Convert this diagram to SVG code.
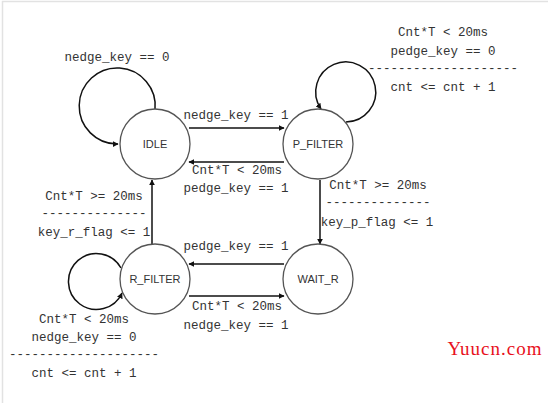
<svg xmlns="http://www.w3.org/2000/svg" width="556" height="403" viewBox="0 0 556 403">
<style>
.node circle{fill:#fff;stroke:#555;stroke-width:1.3}
.node text{font-family:"Liberation Sans",Arial,sans-serif;font-size:11px;fill:#333;text-anchor:middle}
.edge{fill:none;stroke:#111;stroke-width:1.5}
.lbl{font-family:"Liberation Mono","DejaVu Sans Mono",monospace;font-size:12.5px;fill:#333;text-anchor:middle}
</style>
<defs>
<marker id="ah" viewBox="0 0 10 10" refX="9" refY="5" markerWidth="6" markerHeight="6" markerUnits="userSpaceOnUse" orient="auto">
<path d="M0,0 L10,5 L0,10 z" fill="#111"/>
</marker>
</defs>
<rect width="556" height="403" fill="#fff"/>
<path d="M2.5,403 V1.5 H548" fill="none" stroke="#e2e2e2" stroke-width="1.5"/>
<g id="connectors">
<path class="edge" d="M155,110 A38,38 0 1 0 118,144" marker-end="url(#ah)"/>
<path class="edge" d="M346,122 A30,30 0 1 0 321,109" marker-end="url(#ah)"/>
<path class="edge" d="M121,268 A28,28 0 1 0 122,293" marker-end="url(#ah)"/>
<path class="edge" d="M189,128 H284" marker-end="url(#ah)"/>
<path class="edge" d="M284,162 H189" marker-end="url(#ah)"/>
<path class="edge" d="M320,180 V244" marker-end="url(#ah)"/>
<path class="edge" d="M284,264 H189" marker-end="url(#ah)"/>
<path class="edge" d="M189,296 H284" marker-end="url(#ah)"/>
<path class="edge" d="M152,244 V180" marker-end="url(#ah)"/>
</g>
<g id="labels">
<text class="lbl" x="117" y="61">nedge_key == 0</text>
<text class="lbl" x="443" y="36">Cnt*T &lt; 20ms</text>
<text class="lbl" x="443" y="55">pedge_key == 0</text>
<text class="lbl" x="443" y="72">--------------------</text>
<text class="lbl" x="443" y="91">cnt &lt;= cnt + 1</text>
<text class="lbl" x="236" y="119">nedge_key == 1</text>
<text class="lbl" x="237" y="174">Cnt*T &lt; 20ms</text>
<text class="lbl" x="236" y="192">pedge_key == 1</text>
<text class="lbl" x="378" y="189">Cnt*T &gt;= 20ms</text>
<text class="lbl" x="378" y="206">--------------</text>
<text class="lbl" x="377" y="226">key_p_flag &lt;= 1</text>
<text class="lbl" x="94" y="200">Cnt*T &gt;= 20ms</text>
<text class="lbl" x="94" y="217">--------------</text>
<text class="lbl" x="94" y="236">key_r_flag &lt;= 1</text>
<text class="lbl" x="236" y="250">pedge_key == 1</text>
<text class="lbl" x="237" y="310">Cnt*T &lt; 20ms</text>
<text class="lbl" x="236" y="329">nedge_key == 1</text>
<text class="lbl" x="84" y="323">Cnt*T &lt; 20ms</text>
<text class="lbl" x="84" y="341">nedge_key == 0</text>
<text class="lbl" x="84" y="358">--------------------</text>
<text class="lbl" x="84" y="377">cnt &lt;= cnt + 1</text>
</g>
<g id="IDLE" class="node"><circle cx="155" cy="144" r="35"/><text x="155" y="148">IDLE</text></g>
<g id="P_FILTER" class="node"><circle cx="318" cy="144" r="35"/><text x="318" y="148">P_FILTER</text></g>
<g id="R_FILTER" class="node"><circle cx="155" cy="279" r="35"/><text x="155" y="283">R_FILTER</text></g>
<g id="WAIT_R" class="node"><circle cx="318" cy="279" r="35"/><text x="318" y="283">WAIT_R</text></g>
<text x="495" y="355" font-family="Liberation Serif,serif" font-size="19" letter-spacing="1" fill="#e8101c" text-anchor="middle">Yuucn.com</text>
</svg>
